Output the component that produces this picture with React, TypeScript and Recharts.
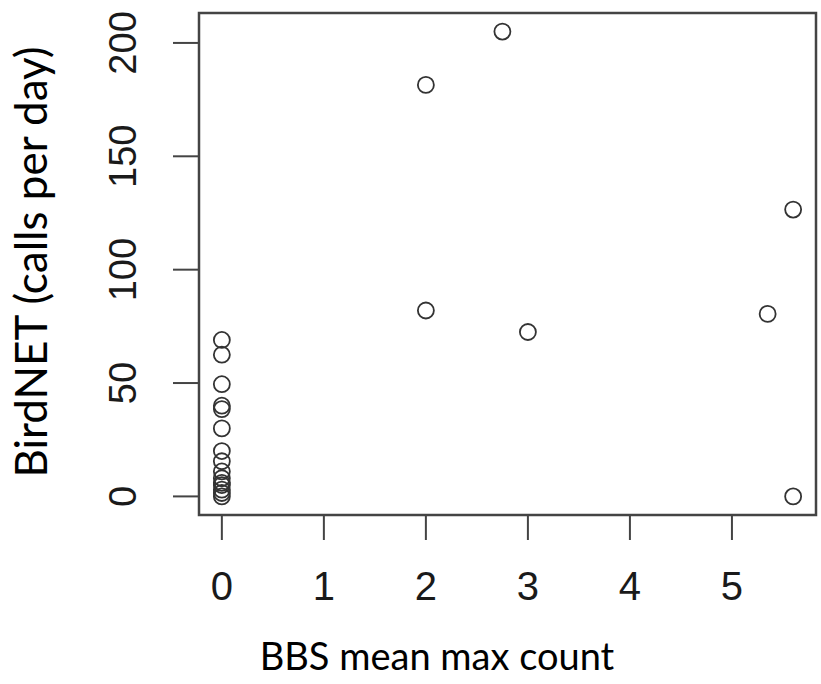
import { ScatterChart, Scatter, XAxis, YAxis, ReferenceArea } from 'recharts'

// BBS mean max count per site
const bbsCount = [
  0, 0, 0, 0, 0, 0, 0, 0, 0, 0, 0, 0, 0, 0, 0,
  2, 2.75, 2, 3, 5.6, 5.35, 5.6,
]
// BirdNET calls per day per site
const birdnetCalls = [
  69, 62.5, 49.5, 40, 38.5, 30, 20, 15.5, 11, 8, 6, 5, 3, 1.5, 0,
  181.5, 205, 82, 72.5, 126.5, 80.5, 0,
]
const xTicks = [0, 1, 2, 3, 4, 5]
const yTicks = [0, 50, 100, 150, 200]

// R-style 4% padding around the data range
const xDomain = [-0.224, 5.824]
const yDomain = [-8.2, 213.2]

const points = bbsCount.map((x, i) => ({ x, y: birdnetCalls[i] }))

const ink = '#444'

function YTick({ x, y, payload }: { x?: number; y?: number; payload?: { value: number } }) {
  return (
    <text
      x={x}
      y={y}
      transform={`rotate(-90, ${x}, ${y})`}
      textAnchor="middle"
      fontSize={38}
      fontFamily="'Liberation Sans', Arial, sans-serif"
      fill="#1a1a1a"
    >
      {payload?.value}
    </text>
  )
}

function Circle({ cx, cy }: { cx?: number; cy?: number }) {
  return <circle cx={cx} cy={cy} r={8} fill="none" stroke="#333" strokeWidth={1.8} />
}

export default function App() {
  return (
    <div style={{ width: 821, height: 684, background: '#fff', position: 'relative' }}>
      <style>{'body{margin:0}'}</style>
      <ScatterChart width={821} height={684} margin={{ top: 13, right: 5, bottom: 0, left: 0 }}>
        <XAxis
          type="number"
          dataKey="x"
          domain={xDomain}
          ticks={xTicks}
          allowDataOverflow
          axisLine={false}
          tickSize={25}
          tickMargin={32}
          tickLine={{ stroke: ink, strokeWidth: 2 }}
          tick={{ fontSize: 40, fill: '#1a1a1a', fontFamily: "'Liberation Sans', Arial, sans-serif" }}
          height={169}
        />
        <YAxis
          type="number"
          dataKey="y"
          domain={yDomain}
          ticks={yTicks}
          allowDataOverflow
          axisLine={false}
          tickSize={26}
          tickMargin={37}
          tickLine={{ stroke: ink, strokeWidth: 2 }}
          tick={<YTick />}
          width={199}
        />
        <ReferenceArea
          x1={xDomain[0]}
          x2={xDomain[1]}
          y1={yDomain[0]}
          y2={yDomain[1]}
          fill="none"
          stroke={ink}
          strokeWidth={2.5}
        />
        <Scatter data={points} shape={<Circle />} isAnimationActive={false} />
        <text
          x={437}
          y={670}
          textAnchor="middle"
          fontSize={38}
          fontFamily="Lato, 'Open Sans', sans-serif"
          fill="#000"
        >
          BBS mean max count
        </text>
        <text
          x={47}
          y={262}
          transform="rotate(-90, 47, 262)"
          textAnchor="middle"
          fontSize={44}
          fontFamily="Lato, 'Open Sans', sans-serif"
          fill="#000"
        >
          BirdNET  (calls per day)
        </text>
      </ScatterChart>
    </div>
  )
}
